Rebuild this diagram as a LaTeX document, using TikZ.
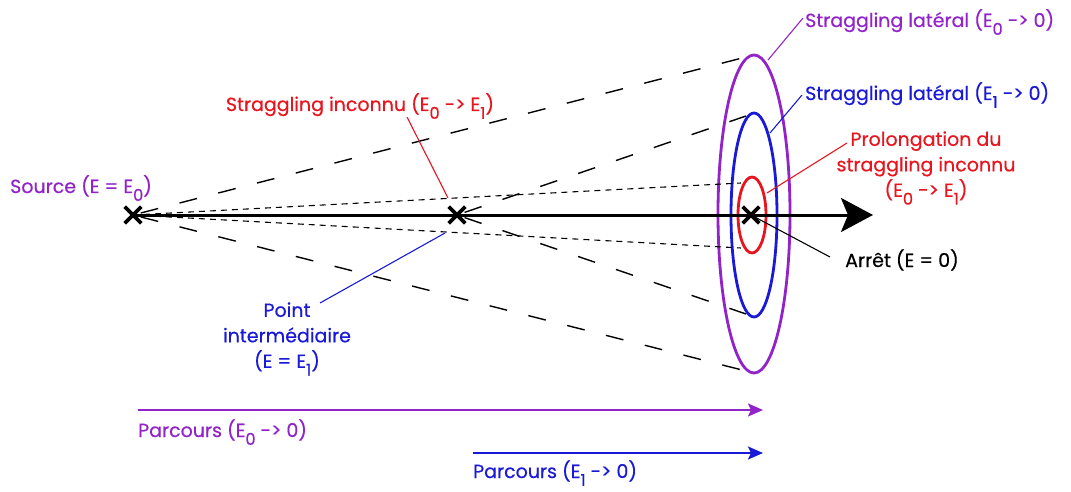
\documentclass[tikz,border=0pt]{standalone}
\usepackage{fontspec}
\setmainfont{Poppins}[FakeBold=0.5]
\usetikzlibrary{arrows.meta,shapes.geometric,shapes.misc}
\definecolor{purp}{RGB}{145,35,200}
\definecolor{bluec}{RGB}{25,25,215}
\definecolor{redc}{RGB}{232,20,30}
\newcommand\lsub[1]{\raisebox{-0.75ex}{\scalebox{0.85}{#1}}}
\begin{document}
\begin{tikzpicture}[x=1pt,y=-1pt,
  lbl/.style={font=\fontsize{19}{25.5}\selectfont, inner sep=0pt, align=center},
  longdash/.style={draw=black, line width=1.4pt, dash pattern=on 18pt off 22pt, dash phase=-8pt},
  shortdash/.style={draw=black, line width=1.1pt, dash pattern=on 6pt off 5pt},
  leader/.style={line width=1.1pt},
  xmark/.style={draw=black, cross out, minimum size=13pt, inner sep=0pt, line width=3.6pt},
  ring/.style={ellipse, draw, line width=2.8pt, inner sep=0pt},
  run/.style={line width=2pt, -{Stealth[length=15pt,width=13pt,inset=3pt]}}]
\useasboundingbox (0,0) rectangle (1071,492);

% rings
\node[ring, purp, minimum width=72pt, minimum height=318pt] (R0) at (754,214) {};
\node[ring, bluec, minimum width=46pt, minimum height=204pt] (R1) at (754,215) {};
\node[ring, redc, minimum width=28pt, minimum height=76pt] (R2) at (752,215) {};

% points
\node[xmark] (xs) at (133,215) {};
\node[xmark] (xm) at (457,215) {};
\node[xmark] (xe) at (751,215) {};
\coordinate (tip) at (873,215);

% dashed cone ends
\coordinate (c0t) at (746,57);
\coordinate (c0b) at (746,371);
\coordinate (c1t) at (746,116);
\coordinate (c1b) at (746,314);
\coordinate (c2t) at (741,183);
\coordinate (c2b) at (741,248);

\draw[longdash] (xs.center) -- (c0t);
\draw[longdash] (xs.center) -- (c0b);
\draw[longdash] (xm.center) -- (c1t);
\draw[longdash] (xm.center) -- (c1b);
\draw[shortdash] (xs.center) -- (c2t);
\draw[shortdash] (xs.center) -- (c2b);

% main axis
\draw[line width=3pt, -{Stealth[length=32pt,width=34pt,inset=7pt]}] (xs.center) -- (tip);

% labels
\node[lbl, purp, anchor=base west] (lsrc) at (10,193) {Source (E = E\lsub{0})};
\node[lbl, redc, anchor=base] (lsi) at (360,111) {Straggling inconnu (E\lsub{0} -> E\lsub{1})};
\node[lbl, purp, anchor=base west] (ll0) at (805,27) {Straggling latéral (E\lsub{0} -> 0)};
\node[lbl, bluec, anchor=base west] (ll1) at (805,100) {Straggling latéral (E\lsub{1} -> 0)};
\node[lbl, redc] (lpr) at (926,168) {Prolongation du\\straggling inconnu\\(E\lsub{0} -> E\lsub{1})};
\node[lbl, anchor=base west] (lar) at (845,267) {Arrêt (E = 0)};
\node[lbl, bluec] (lpt) at (287,339) {Point\\intermédiaire\\(E = E\lsub{1})};

% leaders
\coordinate (a1s) at (407,117); \coordinate (a1e) at (448,198);
\draw[leader, redc] (a1s) -- (a1e);
\coordinate (a2s) at (768,60); \coordinate (a2e) at (803,18);
\draw[leader, purp] (a2s) -- (a2e);
\coordinate (a3s) at (770,133); \coordinate (a3e) at (802,95);
\draw[leader, bluec] (a3s) -- (a3e);
\coordinate (a4s) at (767,193); \coordinate (a4e) at (847,143);
\draw[leader, redc] (a4s) -- (a4e);
\coordinate (a5e) at (830,257);
\draw[leader, black] (xe.center) -- (a5e);
\coordinate (a6s) at (320,303); \coordinate (a6e) at (445,233);
\draw[leader, bluec] (a6s) -- (a6e);

% parcours
\coordinate (p0s) at (138,410); \coordinate (p0e) at (763,410);
\coordinate (p1s) at (473,453); \coordinate (p1e) at (763,453);
\draw[run, purp] (p0s) -- (p0e);
\draw[run, bluec] (p1s) -- (p1e);
\node[lbl, purp, anchor=base west] (lp0) at (138,437) {Parcours (E\lsub{0} -> 0)};
\node[lbl, bluec, anchor=base west] (lp1) at (473,478) {Parcours (E\lsub{1} -> 0)};
\end{tikzpicture}
\end{document}
